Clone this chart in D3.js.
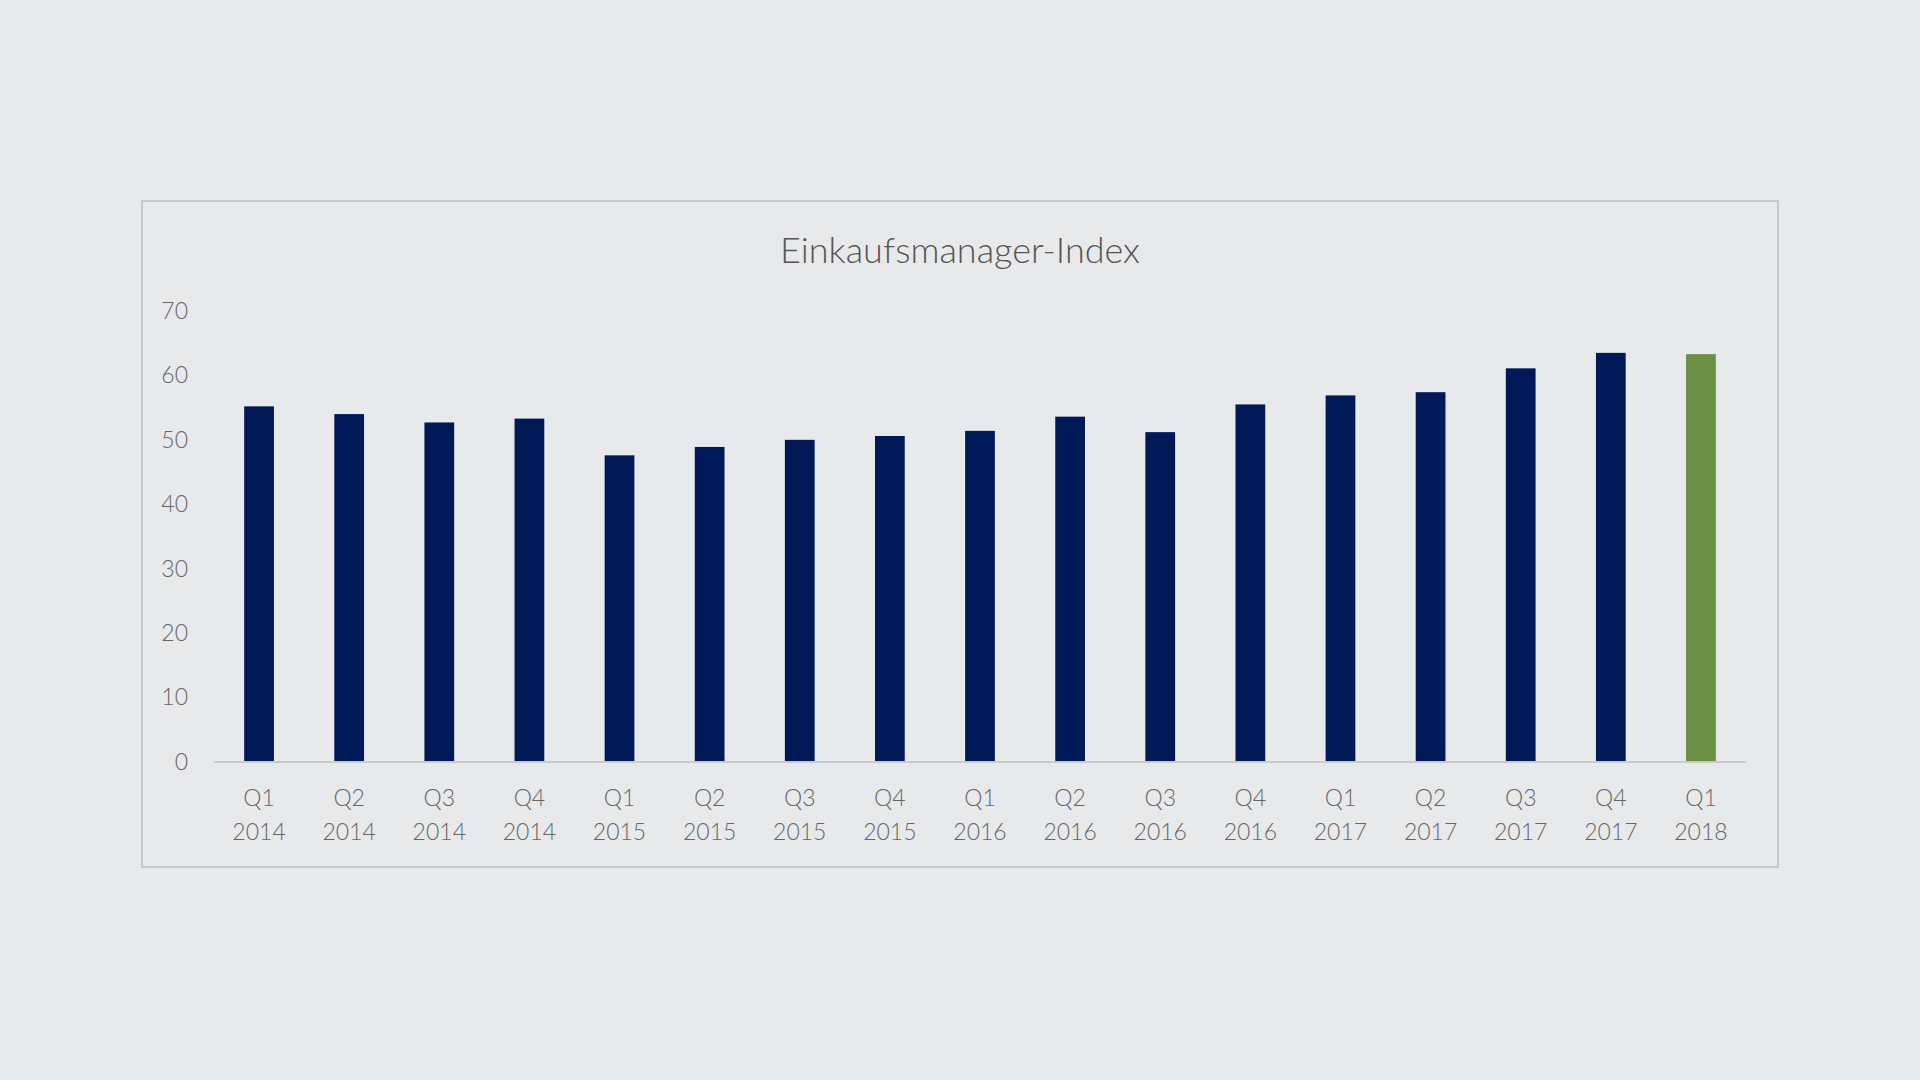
<!DOCTYPE html>
<html><head><meta charset="utf-8">
<script src="https://cdn.jsdelivr.net/npm/d3@7"></script>
<style>body{margin:0;background:#e8e9eb;}svg{display:block;font-family:Lato,"Open Sans",sans-serif;}</style>
</head><body>
<script>
const quarters = ["Q1","Q2","Q3","Q4","Q1","Q2","Q3","Q4","Q1","Q2","Q3","Q4","Q1","Q2","Q3","Q4","Q1"];
const years = ["2014","2014","2014","2014","2015","2015","2015","2015","2016","2016","2016","2016","2017","2017","2017","2017","2018"];
const values = [55.2,54.0,52.7,53.3,47.6,48.9,50.0,50.6,51.4,53.6,51.2,55.5,56.9,57.4,61.1,63.5,63.3];
const yTicks = [0,10,20,30,40,50,60,70];

const W=1920,H=1080;
const svg=d3.select("body").append("svg").attr("width",W).attr("height",H);
svg.append("rect").attr("x",142).attr("y",201).attr("width",1636).attr("height",666)
  .attr("fill","#e8e9eb").attr("stroke","#c8c9cb").attr("stroke-width",2);
svg.append("text").attr("x",960).attr("y",263).attr("text-anchor","middle")
  .attr("font-size",36).attr("font-weight",300).attr("fill","#555").text("Einkaufsmanager-Index");

const idx=values.map((d,i)=>i);
const x=d3.scaleBand().domain(idx).range([214,1746]).paddingInner(0.67).paddingOuter(0.335);
const y=d3.scaleLinear().domain([0,70]).range([762,311]);

svg.selectAll(".bar").data(values).join("rect")
  .attr("x",(d,i)=>x(i)).attr("width",x.bandwidth())
  .attr("y",d=>y(d)).attr("height",d=>y(0)-y(d))
  .attr("fill",(d,i)=>i===values.length-1?"#6a8f45":"#011a57");

const ya=svg.append("g").attr("transform","translate(188,0)")
  .call(d3.axisLeft(y).tickValues(yTicks).tickSize(0).tickPadding(0));
ya.select(".domain").remove();
ya.selectAll("text").attr("font-size",23).attr("fill","#666").attr("font-weight",300).attr("font-family","Lato,sans-serif");

svg.append("line").attr("x1",214).attr("x2",1746).attr("y1",y(0)).attr("y2",y(0))
  .attr("stroke","#c8c9cb").attr("stroke-width",2);

const xa=svg.append("g").attr("transform",`translate(0,${y(0)})`)
  .call(d3.axisBottom(x).tickSize(0).tickFormat(()=>""));
xa.select(".domain").remove();
xa.selectAll(".tick").each(function(d){
  const t=d3.select(this).append("text").attr("text-anchor","middle").attr("font-size",23)
    .attr("fill","#666").attr("font-weight",300).attr("font-family","Lato,sans-serif");
  t.append("tspan").attr("x",0).attr("y",44).text(quarters[d]);
  t.append("tspan").attr("x",0).attr("y",78).text(years[d]);
});
</script>
</body></html>
